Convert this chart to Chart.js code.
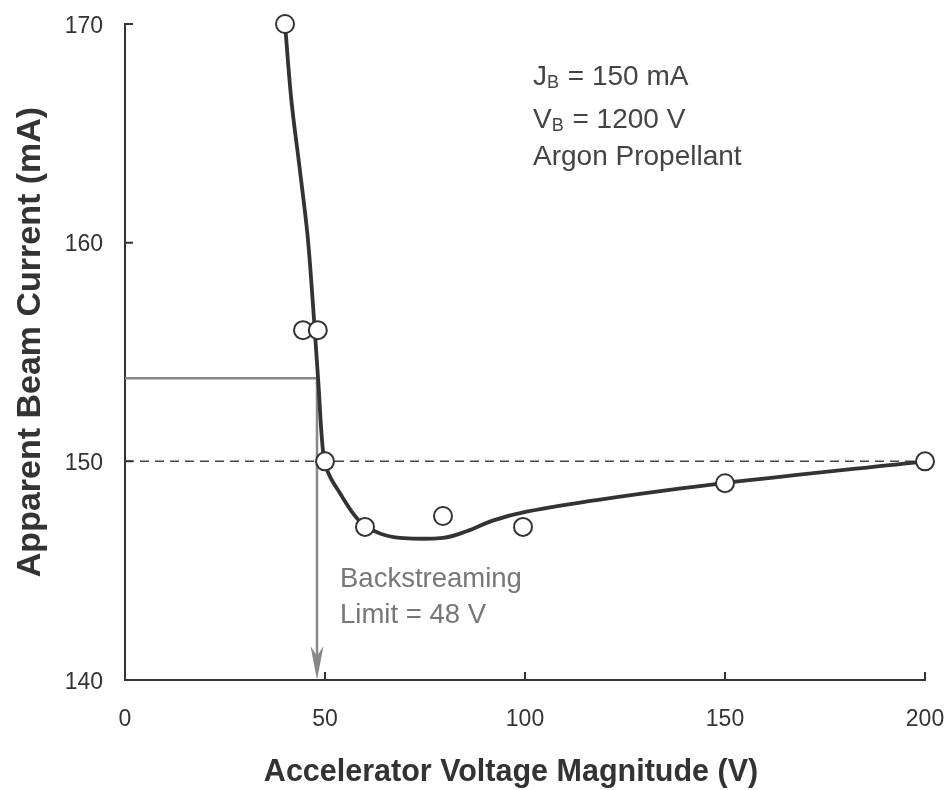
<!DOCTYPE html>
<html>
<head>
<meta charset="utf-8">
<script src="https://cdn.jsdelivr.net/npm/chart.js@4.4.0/dist/chart.umd.min.js"></script>
<style>
  body { margin: 0; background: #fff; }
  #chart { display: block; }
</style>
</head>
<body>
<canvas id="chart" width="950" height="790"></canvas>
<script>
// measured points (open circles)
const pointVolts = [40, 44.5, 48.2, 50, 60, 79.5, 99.5, 150, 200];
const pointCurrent = [170, 156, 156, 150, 147, 147.5, 147, 149, 150];

// hand-drawn fit curve
const curveVolts = [40, 41.6, 43.6, 45.6, 46.9, 48.3, 49.75, 51.25, 53.75, 57.1, 60, 63.75, 68.75, 79.5, 85.4, 92.1, 100.4, 118.75, 149.6, 200];
const curveCurrent = [170, 166.5, 163.5, 160.4, 157.4, 153.7, 150.06, 149.3, 148.54, 147.6, 147.05, 146.7, 146.5, 146.5, 146.8, 147.3, 147.7, 148.25, 149, 150];

// axis ticks
const xTicks = [0, 50, 100, 150, 200];
const yTicks = [140, 150, 160, 170];

// reference lines
const nominalBeam = 150;
const limitVoltage = 48;
const limitCurrent = 153.8;

const FONT = '"Liberation Sans", Arial, sans-serif';
Chart.defaults.font.family = FONT;
Chart.defaults.color = '#333';

// dashed line, backstreaming lines and arrow (under the data), ticks and texts on top
const refLines = {
  id: 'refLines',
  beforeDatasetsDraw(chart) {
    const ctx = chart.ctx;
    const x = chart.scales.x, y = chart.scales.y;
    ctx.save();
    // nominal beam current
    ctx.strokeStyle = '#444';
    ctx.lineWidth = 1.5;
    ctx.setLineDash([9, 6]);
    ctx.beginPath();
    ctx.moveTo(x.getPixelForValue(0), y.getPixelForValue(nominalBeam));
    ctx.lineTo(x.getPixelForValue(200), y.getPixelForValue(nominalBeam));
    ctx.stroke();
    ctx.setLineDash([]);

    // backstreaming limit
    const lx = x.getPixelForValue(limitVoltage);
    const ly = y.getPixelForValue(limitCurrent);
    const by = y.getPixelForValue(140);
    ctx.strokeStyle = '#888';
    ctx.lineWidth = 2.5;
    ctx.beginPath();
    ctx.moveTo(x.getPixelForValue(0), ly);
    ctx.lineTo(lx, ly);
    ctx.lineTo(lx, by - 20);
    ctx.stroke();
    ctx.fillStyle = '#888';
    ctx.beginPath();
    ctx.moveTo(lx - 6.5, by - 34);
    ctx.lineTo(lx, by - 24);
    ctx.lineTo(lx + 6.5, by - 34);
    ctx.lineTo(lx, by);
    ctx.closePath();
    ctx.fill();
    ctx.restore();
  },
  afterDraw(chart) {
    const ctx = chart.ctx;
    const x = chart.scales.x, y = chart.scales.y;
    const area = chart.chartArea;
    ctx.save();

    // inward tick marks
    ctx.strokeStyle = '#333';
    ctx.lineWidth = 2;
    ctx.beginPath();
    xTicks.forEach(v => {
      if (v === 0) return;
      const px = x.getPixelForValue(v);
      ctx.moveTo(px, area.bottom);
      ctx.lineTo(px, area.bottom - 8);
    });
    yTicks.forEach(v => {
      if (v === 140) return;
      const py = y.getPixelForValue(v);
      ctx.moveTo(area.left, py);
      ctx.lineTo(area.left + 8, py);
    });
    ctx.stroke();

    // tick labels
    ctx.fillStyle = '#333';
    ctx.font = '23px ' + FONT;
    ctx.textBaseline = 'alphabetic';
    ctx.textAlign = 'center';
    xTicks.forEach(v => ctx.fillText(String(v), x.getPixelForValue(v), area.bottom + 46));
    ctx.textAlign = 'right';
    yTicks.forEach(v => ctx.fillText(String(v), area.left - 22, y.getPixelForValue(v) + 8.5));

    // axis titles
    ctx.textAlign = 'center';
    ctx.font = 'bold 30.5px ' + FONT;
    ctx.fillText('Accelerator Voltage Magnitude (V)', 511, 781);
    ctx.save();
    ctx.translate(40, 342);
    ctx.rotate(-Math.PI / 2);
    ctx.font = 'bold 34px ' + FONT;
    ctx.fillText('Apparent Beam Current (mA)', 0, 0);
    ctx.restore();

    // run conditions
    ctx.textAlign = 'left';
    ctx.fillStyle = '#444';
    const sub = (main, s, rest, px, py) => {
      ctx.font = '28px ' + FONT;
      ctx.fillText(main, px, py);
      let w = ctx.measureText(main).width;
      ctx.font = '18px ' + FONT;
      ctx.fillText(s, px + w, py + 3);
      w += ctx.measureText(s).width + 1;
      ctx.font = '28px ' + FONT;
      ctx.fillText(rest, px + w, py);
    };
    sub('J', 'B', ' = 150 mA', 533, 85);
    sub('V', 'B', ' = 1200 V', 533, 128);
    ctx.font = '28px ' + FONT;
    ctx.fillText('Argon Propellant', 533, 165);

    // backstreaming label
    ctx.fillStyle = '#777';
    ctx.font = '27.5px ' + FONT;
    ctx.fillText('Backstreaming', 340, 587);
    ctx.fillText('Limit = 48 V', 340, 623);
    ctx.restore();
  }
};

new Chart(document.getElementById('chart'), {
  type: 'scatter',
  data: {
    datasets: [
      {
        label: 'measured',
        data: pointVolts.map((v, i) => ({ x: v, y: pointCurrent[i] })),
        pointRadius: 9,
        pointBorderWidth: 2,
        pointBackgroundColor: '#fff',
        pointBorderColor: '#333',
        showLine: false,
        clip: false
      },
      {
        label: 'fit',
        data: curveVolts.map((v, i) => ({ x: v, y: curveCurrent[i] })),
        showLine: true,
        pointRadius: 0,
        borderColor: '#333',
        borderWidth: 3.8,
        tension: 0.35,
        clip: false
      }
    ]
  },
  options: {
    responsive: false,
    animation: false,
    devicePixelRatio: 1,
    layout: { padding: { top: 24, right: 25, left: 0, bottom: 0 } },
    plugins: { legend: { display: false }, tooltip: { enabled: false } },
    scales: {
      x: {
        type: 'linear',
        min: 0, max: 200,
        afterBuildTicks: s => { s.ticks = xTicks.map(v => ({ value: v })); },
        afterFit: s => { s.height = 110; },
        grid: { display: false, drawTicks: false },
        border: { display: true, color: '#333', width: 2 },
        ticks: { display: false }
      },
      y: {
        type: 'linear',
        min: 140, max: 170,
        afterBuildTicks: s => { s.ticks = yTicks.map(v => ({ value: v })); },
        afterFit: s => { s.width = 125; },
        grid: { display: false, drawTicks: false },
        border: { display: true, color: '#333', width: 2 },
        ticks: { display: false }
      }
    }
  },
  plugins: [refLines]
});
</script>
</body>
</html>
